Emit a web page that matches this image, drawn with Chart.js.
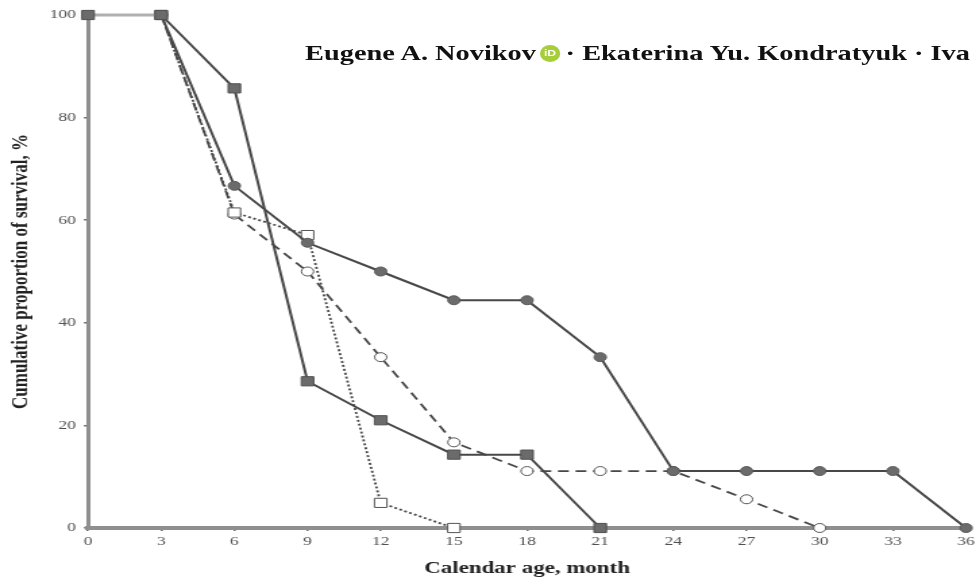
<!DOCTYPE html>
<html>
<head>
<meta charset="utf-8">
<script src="https://cdn.jsdelivr.net/npm/chart.js@4/dist/chart.umd.min.js"></script>
<style>
  html, body { margin:0; padding:0; background:#fff; }
  body { width:978px; height:579px; overflow:hidden; position:relative; }
  #wrap { position:absolute; left:0; top:0; width:735px; height:579px; transform:scaleX(1.35); transform-origin:0 0; }
  #c { position:absolute; left:0; top:0; }
  #authors { position:absolute; left:226px; top:43px; white-space:nowrap; font-family:"Liberation Serif", serif; font-weight:bold; font-size:21px; line-height:21px; color:#111; }
  #orcid { display:inline-block; width:15px; height:17px; border-radius:50%; background:#a6ce39; color:#fff; font-family:"Liberation Sans", sans-serif; font-size:9px; line-height:17px; text-align:center; vertical-align:-2px; position:relative; top:-6px; margin:0 4px 0 3px; font-weight:bold; }
</style>
</head>
<body>
<div id="wrap">
  <canvas id="c" width="735" height="579"></canvas>
  <div id="authors">Eugene A. Novikov<span id="orcid">iD</span>· Ekaterina Yu. Kondratyuk · Iva</div>
</div>
<script>
// ---- data ----
const xTickValues = [0, 3, 6, 9, 12, 15, 18, 21, 24, 27, 30, 33, 36];
const yTickValues = [0, 20, 40, 60, 80, 100];

const filledSquareMonths = [0, 3, 6, 9, 12, 15, 18, 21];
const filledSquareValues = [100, 100, 85.7, 28.6, 21, 14.3, 14.3, 0];

const filledCircleMonths = [3, 6, 9, 12, 15, 18, 21, 24, 27, 30, 33, 36];
const filledCircleValues = [100, 66.7, 55.6, 50, 44.4, 44.4, 33.3, 11.1, 11.1, 11.1, 11.1, 0];

const openSquareMonths = [3, 6, 9, 12, 15];
const openSquareValues = [100, 61.5, 57.1, 4.9, 0];

const openCircleMonths = [3, 6, 9, 12, 15, 18, 21, 24, 27, 30];
const openCircleValues = [100, 61.1, 50, 33.3, 16.7, 11.1, 11.1, 11.1, 5.6, 0];

const xTitle = 'Calendar age, month';
const yTitle = 'Cumulative proportion of survival, %';

function pts(xs, ys) { return xs.map((x, i) => ({ x: x, y: ys[i] })); }

const lineCol = '#474747';
const markFill = '#6b6b6b';
const axisCol = '#8f8f8f';
const tickFont = { family: 'Liberation Serif', size: 13 };
const titleFont = { family: 'Liberation Serif', size: 17, weight: 'bold' };

new Chart(document.getElementById('c'), {
  type: 'line',
  data: {
    datasets: [
      {
        data: pts(filledSquareMonths, filledSquareValues),
        borderColor: lineCol, borderWidth: 2,
        pointStyle: 'rect', pointRadius: 6.5, pointBackgroundColor: markFill, pointBorderColor: '#505050', pointBorderWidth: 1,
        clip: false,
        segment: {
          borderColor: ctx => ctx.p0.parsed.x === 0 ? '#b0b0b0' : undefined,
          borderWidth: ctx => ctx.p0.parsed.x === 0 ? 3 : undefined
        }
      },
      {
        data: pts(filledCircleMonths, filledCircleValues),
        borderColor: lineCol, borderWidth: 2,
        pointStyle: 'circle', pointRadius: 4.5, pointBackgroundColor: markFill, pointBorderColor: '#5a5a5a', pointBorderWidth: 1,
        clip: false
      },
      {
        data: pts(openSquareMonths, openSquareValues),
        borderColor: lineCol, borderWidth: 1.8, borderDash: [2, 2],
        pointStyle: 'rect', pointRadius: 6.5, pointBackgroundColor: '#ffffff', pointBorderColor: '#555', pointBorderWidth: 1,
        clip: false
      },
      {
        data: pts(openCircleMonths, openCircleValues),
        borderColor: lineCol, borderWidth: 1.8, borderDash: [8, 5],
        pointStyle: 'circle', pointRadius: 4.5, pointBackgroundColor: '#ffffff', pointBorderColor: '#555', pointBorderWidth: 1,
        clip: false
      }
    ]
  },
  options: {
    responsive: false,
    animation: false,
    layout: { padding: { left: 0, right: 19.4, top: 15, bottom: 0 } },
    plugins: { legend: { display: false }, tooltip: { enabled: false } },
    elements: { line: { tension: 0 } },
    scales: {
      x: {
        type: 'linear', min: 0, max: 36,
        afterBuildTicks: s => { s.ticks = xTickValues.map(v => ({ value: v })); },
        afterFit: s => { s.height = 51; },
        grid: { drawOnChartArea: false, tickLength: 3, color: '#666', lineWidth: 1.5 },
        border: { color: axisCol, width: 4 },
        ticks: { font: tickFont, color: '#505050', padding: 3, maxRotation: 0, autoSkip: false, callback: v => String(v) },
        title: { display: true, text: xTitle, font: titleFont, color: '#222', padding: { top: 0, bottom: 0 } }
      },
      y: {
        type: 'linear', min: 0, max: 100,
        afterBuildTicks: s => { s.ticks = yTickValues.map(v => ({ value: v })); },
        afterFit: s => { s.width = 65.2; },
        grid: { drawOnChartArea: false, tickLength: 3, color: '#666', lineWidth: 1.5 },
        border: { color: axisCol, width: 3 },
        ticks: { font: tickFont, color: '#505050', padding: 6, autoSkip: false, callback: v => String(v) },
        title: { display: true, text: yTitle, font: titleFont, color: '#222', padding: { top: 5, bottom: 0 } }
      }
    }
  }
});
</script>
</body>
</html>
